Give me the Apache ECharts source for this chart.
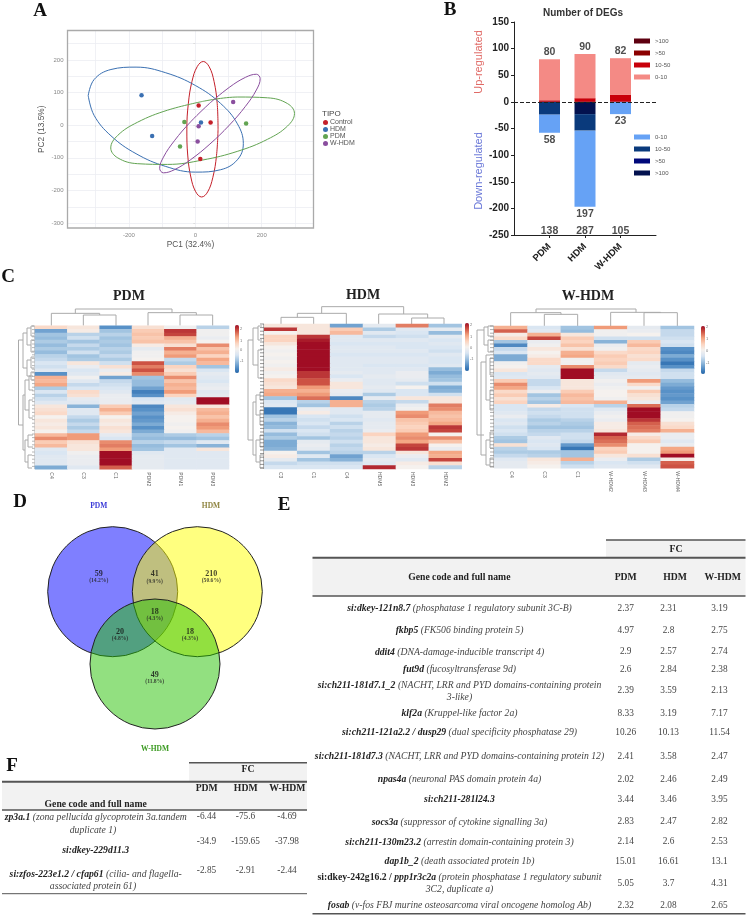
<!DOCTYPE html>
<html><head><meta charset="utf-8">
<style>html,body{margin:0;padding:0;background:#fff}#c{width:748px;height:917px}canvas{filter:blur(.4px)}</style>
<script src="https://cdn.jsdelivr.net/npm/echarts@6/dist/echarts.min.js"></script>
</head><body><div id="c"></div>
<script>
// ---------- Panel A: PCA ----------
const pcaGroups = ['Control','HDM','PDM','W-HDM'];
const pcaColors = ['#c4202a','#3a70b2','#62a452','#8a4e9e'];
const pcaControl = [[10,60],[46,8],[15,-104]];
const pcaHDM = [[-162,92],[-130,-33],[17,8]];
const pcaPDM = [[-33,10],[153,5],[-46,-65]];
const pcaWHDM = [[114,71],[10,-3],[7,-50]];
const ellControl = [[68.5,-13],[63.9,-92.5],[52.9,-159.6],[37.2,-204.4],[19,-220],[1.2,-204],[-13.5,-158.8],[-22.9,-91.5],[-25.5,-12],[-20.9,67.5],[-9.9,134.6],[5.8,179.4],[24,195],[41.8,179],[56.5,133.8],[65.9,66.5],[68.5,-13]];
const ellHDM = [[-322.6,90.5],[-304.8,29.9],[-254.2,-32.5],[-178.5,-87.4],[-89,-126.5],[0.5,-143.8],[76.2,-136.5],[126.8,-105.9],[144.6,-56.5],[126.8,4.1],[76.2,66.5],[0.5,121.4],[-89,160.5],[-178.5,177.8],[-254.2,170.5],[-304.8,139.9],[-322.6,90.5]];
const ellPDM = [[22,72.8],[-84,45.8],[-173.6,9.2],[-233.7,-31.3],[-254.7,-69.7],[-233.7,-100.1],[-173.6,-118],[-84,-120.2],[22,-106.8],[128,-79.8],[217.6,-43.2],[277.7,-2.7],[298.7,35.7],[277.7,66.1],[217.6,83.8],[128,86.2],[22,72.8]];
const ellWHDM = [[44,67.8],[-14,10.4],[-63,-47.7],[-95.9,-97.8],[-107.4,-132.3],[-95.9,-146],[-63,-136.5],[-14,-105.6],[44,-57.8],[102,-0.4],[151,57.7],[183.9,107.8],[195.4,142.3],[183.9,156],[151,146.5],[102,115.6],[44,67.8]];
const pcaXTicks = [-300,-200,-100,0,100,200,300];
const pcaXLabels = [-200,0,200];
const pcaYTicks = [-300,-250,-200,-150,-100,-50,0,50,100,150,200,250];
const pcaYLabels = [-300,-200,-100,0,100,200];

// ---------- Panel B: DEG counts ----------
const degCats = ['', 'PDM', 'HDM', 'W-HDM', ''];
const up10to50 = [null,3,7,13,null];
const up50 = [null,0,0,0,null];
const up100 = [null,0,0,0,null];
const up0to10 = [null,77,83,69,null];
const down100 = [null,0,-23,0,null];
const down10to50 = [null,-24,-31,0,null];
const down50 = [null,0,0,0,null];
const down0to10 = [null,-34,-143,-23,null];
const upTotals = [null,80,90,82,null];
const downTotals = [null,-58,-197,-23,null];
const downLabels = [null,58,197,23,null];
const allTotals = [null,138,287,105,null];

// ---------- Panel C: heatmaps (rows top to bottom, 6 columns) ----------
const pdmCols = ['C4','C3','C1','PDM2','PDM1','PDM3'];
const pdmRows = [
[0.5,0.3,-1.5,0.4,0,-0.7],[-1.3,0.2,-0.9,0.7,1.9,0],[-0.9,-0.7,-0.7,0.8,1.8,0],[-1.0,-0.5,-0.9,0.7,1.0,-0.1],
[-0.8,-0.9,-0.8,0.8,0.8,0.1],[-1.0,-0.6,-0.9,0.2,0.4,1.3],[-0.8,-0.8,-0.7,-0.2,1.4,0.8],[-1.0,-0.5,-0.8,0,1.0,1.0],
[-0.7,-0.9,-0.6,0,1.2,0.6],[-0.6,-0.8,-0.8,0.1,-0.6,1.1],[-0.4,0.3,-0.5,1.7,-0.8,0.9],[-0.5,-0.1,0.4,1.4,0.6,-0.9],
[-0.3,-0.4,-0.1,1.7,0.4,-0.4],[-1.5,-0.3,0.2,1.3,0.7,-0.2],[1.0,0.0,-1.3,-0.9,1.3,-0.3],[0.9,-0.3,-0.6,-1.0,0.8,-0.4],
[1.1,-0.6,-0.5,-1.0,1.0,-0.2],[-0.8,-0.4,-0.4,-1.3,0.9,-0.1],[-0.4,0.5,-0.3,-1.7,1.2,-0.3],[-0.7,0.4,-0.1,-1.5,0.6,-0.2],
[-0.5,-0.2,-0.1,-0.4,-0.3,2.3],[-0.3,-0.3,-0.1,-0.3,-0.2,2.4],[0.3,-1.1,0.7,-1.6,0.3,0.3],[0.4,-0.3,1.0,-1.5,0.4,0.9],
[0.5,-0.3,0.7,-1.3,0.2,1.0],[0.1,-0.6,0.1,-1.5,0.1,0.8],[0.3,-0.8,0.3,-1.4,0.1,1.0],[0.2,-0.6,0.2,-1.2,0.0,1.3],
[0.3,-0.8,0.4,-1.5,0.1,1.2],[0.1,-0.6,0.3,-1.2,0.0,0.9],[0.9,1.2,-0.2,-0.9,-0.8,-0.7],[1.3,1.2,-0.4,-1.0,-1.0,-0.9],
[0.7,0.4,1.3,-0.7,-0.6,-0.3],[0.9,0.3,1.4,-1.0,-0.9,-1.1],[-0.3,0.3,1.2,-0.9,-0.3,0.3],[-0.4,0.0,2.4,-0.3,-0.3,-0.3],
[-0.3,-0.1,2.5,-0.2,-0.3,-0.3],[-0.3,-0.1,2.5,-0.2,-0.3,-0.3],[-0.3,-0.1,2.5,-0.2,-0.3,-0.3],[-1.2,-0.3,1.6,-0.2,-0.3,-0.3]];
const hdmCols = ['C3','C1','C4','HDM5','HDM3','HDM2'];
const hdmRows = [
[0.3,0.3,-1.3,-0.2,1.4,-0.9],[1.9,0.3,0.7,-0.8,-0.3,-0.2],[0.1,0.3,0.9,-0.3,-0.4,-1.0],[0.6,1.9,-0.3,-0.6,-0.5,-0.2],
[0.6,2.1,-0.3,-0.3,-0.3,-0.4],[0.3,2.5,-0.4,-0.4,-0.4,-0.3],[0.1,2.5,-0.3,-0.3,-0.4,-0.4],[0.0,2.5,-0.3,-0.3,-0.3,-0.5],
[0.1,2.5,-0.4,-0.4,-0.4,-0.3],[0.0,2.5,-0.3,-0.3,-0.3,-0.4],[0.1,2.5,-0.3,-0.3,-0.3,-0.4],[0.0,2.5,-0.3,-0.4,-0.4,-0.3],
[0.2,2.3,-0.3,-0.3,-0.3,-1.0],[0.0,1.9,-0.2,-0.3,-0.1,-1.2],[0.1,1.9,-0.4,-0.2,-0.1,-1.0],[0.5,1.7,-0.1,-0.3,-0.2,-0.9],
[0.4,1.7,0.3,-0.3,-0.5,-0.5],[0.3,1.2,0.3,-0.2,0.1,-1.2],[1.0,1.0,-0.1,-0.3,-0.4,-1.1],[1.1,1.2,-0.2,-0.8,-0.4,-0.5],
[-0.9,1.5,-1.6,-0.2,0.3,0.3],[-0.4,-0.7,1.0,-0.7,-0.6,0.3],[-0.3,-0.9,1.0,-0.8,-0.1,1.4],[-1.8,-0.1,-0.3,-0.7,0,1.3],
[-1.8,0.2,-0.3,-0.2,1.2,0.9],[-0.9,-0.4,-0.5,-0.2,1.3,0.8],[-0.7,-0.5,-0.4,-0.3,0.8,0.9],[-1.1,-0.4,-0.7,-0.2,0.7,1.1],
[-1.0,-0.6,-0.5,-0.2,0.6,1.9],[-0.5,-0.4,-0.7,-0.1,0.7,1.8],[-1.0,-0.5,-0.6,0.6,1.2,0.1],[-0.8,-0.9,-0.7,0.3,1.3,1.3],
[-1.2,-0.2,-0.5,0.3,1.1,0.8],[-1.2,-0.1,-0.7,0.2,1.8,0.1],[-1.1,-0.2,-0.6,0.3,1.9,-0.1],[0.1,-0.9,-0.7,-0.7,0.3,1.1],
[0.2,-0.3,-1.3,-0.4,-0.1,1.0],[-0.2,-0.9,-1.1,-0.2,-0.3,1.8],[-0.6,-0.5,-0.5,-0.3,0.2,0.4],[-0.4,-0.4,-0.4,2.0,0.1,-0.7]];
const whdmCols = ['C4','C3','C1','W-HDM2','W-HDM3','W-HDM4'];
const whdmRows = [
[1.0,-0.4,-0.9,1.2,-0.2,-0.9],[1.6,-0.3,-1.0,0.0,-0.1,-0.6],[0.2,1.0,0.3,0,0.1,-0.6],[0.5,1.8,0.7,-0.5,-0.5,-0.5],
[-0.9,-0.1,0.6,-1.1,0.7,-0.4],[-1.6,0.0,0.8,-0.1,0.9,-0.5],[-0.6,0.3,0.4,0,0.5,-1.5],[-0.4,0.1,1.0,0.5,0.6,-1.6],
[-1.2,0.2,1.1,0.7,0.4,-1.2],[-1.2,0.5,0.0,0.6,0.5,-1.5],[0,0.5,0.0,0.7,-0.2,-1.8],[0.1,-0.2,1.3,0.5,-0.1,-1.5],
[0.3,-0.3,2.2,-0.6,-0.2,-0.6],[-0.4,-0.2,2.4,-0.3,-0.3,-0.5],[-0.3,-0.3,2.4,-0.2,-0.2,-0.5],[0.7,-0.6,0.3,0,1.2,-1.0],
[1.3,-0.6,0.3,-0.1,0.5,-1.2],[1.1,-0.4,0.3,0.0,0.0,-1.4],[0.5,-0.1,0.7,0.1,0.7,-1.5],[0.7,-0.9,0.9,0.1,0.4,-1.4],
[0.4,-0.7,0.8,0,0.3,-1.5],[0.6,-0.9,0.9,1.0,-0.1,-1.3],[-0.4,0.2,-0.4,-0.7,1.5,-0.7],[-0.4,-0.6,-0.5,-0.3,2.2,-0.6],
[-0.3,-0.5,-0.5,-0.1,2.5,0.0],[-0.1,-0.6,-0.5,0,2.4,0.0],[-0.4,-0.8,-0.7,-0.1,1.9,0.1],[-0.3,-0.7,-0.8,0.2,1.6,0.4],
[-0.5,-0.9,-0.9,0.2,1.5,0.5],[-0.4,-0.7,-0.7,0.3,1.4,1.0],[-0.5,-0.6,-0.5,2.0,0.2,-0.1],[-0.8,-0.3,-0.5,1.6,0.5,-0.1],
[-0.9,-0.4,-0.6,1.5,0.7,-0.3],[0.4,-0.3,-1.4,1.3,0.1,-0.1],[-0.7,-0.4,-1.8,0.6,0.1,1.1],[-0.8,-0.8,-0.9,0.7,0.1,1.2],
[-0.6,-0.7,-0.9,0.3,0.4,2.3],[-0.3,0.3,1.0,-0.1,-0.8,0.2],[-0.2,0.2,-0.7,-0.4,-0.5,1.6],[-0.2,0.1,-0.5,-0.3,-0.3,1.7]];
const heatStops = ['#2366ab','#5b93c8','#9cc0df','#d9e5f2','#f5f1ee','#fbd3be','#f3a27f','#cf5545','#a00d24'];

// ---------- Panel D: Venn ----------
const vennSets = ['PDM','HDM','W-HDM'];
const vennCounts = [59,41,210,18,20,18,49];
const vennPcts = ['14.2%','9.9%','50.6%','4.3%','4.8%','4.3%','11.8%'];
// layout of the diagram, in page pixels
const vennCircleAt = [[112.7,591.7],[197.3,591.7],[155,664]];
const vennLabelAt = [[98.7,577],[154.7,577.5],[211.3,577],[154.7,615],[120,635],[190,635],[154.7,678]];

// ---------- Panels E, F: tables ----------
const geneE = ['si:dkey-121n8.7','fkbp5','ddit4','fut9d','si:ch211-181d7.1_2','klf2a','si:ch211-121a2.2 / dusp29','si:ch211-181d7.3','npas4a','si:ch211-281l24.3','socs3a','si:ch211-130m23.2','dap1b_2','si:dkey-242g16.2 / ppp1r3c2a','fosab'];
const descE = ['(phosphatase 1 regulatory subunit 3C-B)','(FK506 binding protein 5)','(DNA-damage-inducible transcript 4)','(fucosyltransferase 9d)','(NACHT, LRR and PYD domains-containing protein','(Kruppel-like factor 2a)','(dual specificity phosphatase 29)','(NACHT, LRR and PYD domains-containing protein 12)','(neuronal PAS domain protein 4a)','','(suppressor of cytokine signalling 3a)','(arrestin domain-containing protein 3)','(death associated protein 1b)','(protein phosphatase 1 regulatory subunit','(v-fos FBJ murine osteosarcoma viral oncogene homolog Ab)'];
const contE = ['','','','','3-like)','','','','','','','','','3C2, duplicate a)',''];
const fcPdmE = ['2.37','4.97','2.9','2.6','2.39','8.33','10.26','2.41','2.02','3.44','2.83','2.14','15.01','5.05','2.32'];
const fcHdmE = ['2.31','2.8','2.57','2.84','3.59','3.19','10.13','3.58','2.46','3.46','2.47','2.6','16.61','3.7','2.08'];
const fcWhdmE = ['3.19','2.75','2.74','2.38','2.13','7.17','11.54','2.47','2.49','3.95','2.82','2.53','13.1','4.31','2.65'];
const geneF = ['zp3a.1','si:dkey-229d11.3','si:zfos-223e1.2 / cfap61'];
const descF = ['(zona pellucida glycoprotein 3a.tandem','','(cilia- and flagella-'];
const contF = ['duplicate 1)','','associated protein 61)'];
const fcPdmF = ['-6.44','-34.9','-2.85'];
const fcHdmF = ['-75.6','-159.65','-2.91'];
const fcWhdmF = ['-4.69','-37.98','-2.44'];
const fcCols = ['PDM','HDM','W-HDM'];

// layout only
const rowYE = [608.7,630.7,652,669.7,691,713.3,732.3,756.7,779.3,799.3,822,842,861.3,883.3,905.7];
const colXE = [625.7,668.5,719.5];
const rowYF = [823.7,850.7,880];
const valYF = [816.7,841.3,870.7];
const colXF = [206.5,245.5,287];

const SERIF='"Liberation Serif"', SANS='"Liberation Sans"';
const G=[];
function T(x,y,text,font,fill,align,extra){G.push(Object.assign({type:'text',x,y,silent:true,style:Object.assign({text:String(text),font,fill:fill||'#333',textAlign:align||'center',textVerticalAlign:'middle'},extra||{})}));}
function L(x1,y1,x2,y2,c,w){G.push({type:'line',silent:true,shape:{x1,y1,x2,y2},style:{stroke:c||'#aaa',lineWidth:w||1}});}
function R(x,y,w,h,c){G.push({type:'rect',silent:true,shape:{x,y,width:w,height:h},style:{fill:c}});}
// panel letters
[['A',40,11],['B',450,10],['C',8,277],['D',20,502],['E',284,505],['F',12,766]].forEach(a=>T(a[1],a[2],a[0],'bold 19px '+SERIF,'#111'));
// A extras
T(322,114,'TIPO','8px '+SANS,'#444','left');
// B extras
T(583,13,'Number of DEGs','bold 10px '+SANS,'#333');
G.push({type:'text',x:479,y:62,rotation:Math.PI/2,silent:true,style:{text:'Up-regulated',font:'11px '+SANS,fill:'#e06a66',textAlign:'center',textVerticalAlign:'middle'}});
G.push({type:'text',x:479,y:171,rotation:Math.PI/2,silent:true,style:{text:'Down-regulated',font:'11px '+SANS,fill:'#6a78d8',textAlign:'center',textVerticalAlign:'middle'}});
// C titles
T(129,296,'PDM','bold 14px '+SERIF,'#222');T(363,295,'HDM','bold 14px '+SERIF,'#222');T(588,296,'W-HDM','bold 14px '+SERIF,'#222');
// dendrogram helpers (decoration)
function topBr(ox,x1,y1,x2,y2,yBar){const f=(x)=>ox+x/3,g=y=>290+y/3;L(f(x1),g(yBar),f(x2),g(yBar));L(f(x1),g(yBar),f(x1),g(y1));L(f(x2),g(yBar),f(x2),g(y2));}
topBr(0,250,107,348,107,75);topBr(0,154,107,299,75,70);topBr(0,540,107,638,107,75);topBr(0,444,107,589,75,68);topBr(0,226,70,516,68,57);
topBr(245,108,102,206,102,82);topBr(245,157,82,304,102,70);topBr(245,500,102,597,102,84);topBr(245,401,102,548,84,72);topBr(245,230,70,476,72,50);
topBr(490,163,108,263,108,73);topBr(490,62,108,213,73,68);topBr(490,462,108,562,108,68);topBr(490,362,108,512,68,67);topBr(490,138,68,438,67,57);
function leftBr(list){list.forEach(b=>{L(b[0],b[1],b[0],b[2]);L(b[0],b[1],b[3],b[1]);L(b[0],b[2],b[3],b[2]);});}
leftBr([[18.5,340,425,23],[23,333,368,27],[27,328,345,31],[27,360,376,31],[31,326,336,34],[31,340,352,34],[31,357,368,34],[31,372,380,34],[23,395,450,25],[25,380,410,29],[29,376,390,33],[29,400,418,33],[25,440,462,28],[28,435,447,33],[28,455,468,32]]);
leftBr([[248,340,440,253],[253,328,365,258],[258,326,340,262],[258,350,378,262],[253,402,455,256],[256,395,415,260],[260,392,400,263],[260,410,425,263],[256,440,462,260],[260,435,447,263],[260,455,468,263]]);
leftBr([[477,330,435,484],[484,327,345,488],[488,326,336,493],[488,340,352,493],[481,362,455,486],[486,355,400,490],[490,358,375,493],[490,390,410,493],[486,440,465,490],[490,432,448,493],[490,458,467,493]]);
function fringe(x1,x2,y1,y2,c){L(x2,y1,x2,y2,c,1);for(let y=y1;y<y2;y+=3.6){L(x1,y,x2,y,c,.7);}}
fringe(32,35,326,469,'#999');fringe(260,264,324,469,'#666');fringe(490,494,326,468,'#888');
// colour bar ticks
[[240,[329,341,350,361]],[470,[325,337,348,359]],[706,[327,339,351,363]]].forEach(c=>{['2','1','0','-1'].forEach((s,i)=>T(c[0],c[1][i],s,'4px '+SANS,'#777','left'));});
// Venn set names
T(98.7,505.7,vennSets[0],'bold 7.5px '+SERIF,'#3a3ad8');T(211,505.7,vennSets[1],'bold 7.5px '+SERIF,'#8f8440');T(155,749,vennSets[2],'bold 7.5px '+SERIF,'#3a9a20');
// Table E
const FS=9.7,FV=9.3;
const rich9={b:{font:'italic bold '+FS+'px '+SERIF,fill:'#222'},i:{font:'italic '+FS+'px '+SERIF,fill:'#444'},n:{font:'bold '+FS+'px '+SERIF,fill:'#222'}};
const richT=(g,d)=>{const m=g.match(/^(si:dkey-242g16\.2 \/ )(.*)$/);const head=m?'{n|'+m[1]+'}{b|'+m[2]+'}':'{b|'+g+'}';return head+(d?'{i| '+d+'}':'');};
R(606,540,139.5,17.5,'#f2f2f2');R(312.5,557.5,433,38.5,'#f2f2f2');
L(606,540,745.5,540,'#555',1.5);L(312.5,557.7,745.5,557.7,'#555',2);L(312.5,596,745.5,596,'#555',1.5);L(312.5,913.7,745.5,913.7,'#555',1.5);
T(676,549.3,'FC','bold '+FS+'px '+SERIF,'#222');T(459.3,577.3,'Gene code and full name','bold '+FS+'px '+SERIF,'#222');
[625.7,675,722.7].forEach((x,i)=>T(x,577.3,fcCols[i],'bold '+FS+'px '+SERIF,'#222'));
geneE.forEach((g,i)=>{
  const two=contE[i]!=='';const y=rowYE[i];
  T(459.5,two?y-6:y,richT(g,descE[i]),FS+'px '+SERIF,'#333','center',{rich:rich9});
  if(two)T(459.5,y+6.3,contE[i],'italic '+FS+'px '+SERIF,'#444');
  [fcPdmE,fcHdmE,fcWhdmE].forEach((a,k)=>T(colXE[k],y,a[i],FV+'px '+SERIF,'#444'));
});
// Table F
R(189,762.7,118,19,'#f2f2f2');R(2,781.7,305,28.3,'#f2f2f2');
L(189,762.7,307,762.7,'#555',1.5);L(2,781.7,307,781.7,'#555',2);L(2,810,307,810,'#555',1.3);L(2,893.7,307,893.7,'#555',1);
T(248,769,'FC','bold '+FS+'px '+SERIF,'#222');T(95.7,804.3,'Gene code and full name','bold '+FS+'px '+SERIF,'#222');
[206.7,245.7,287.3].forEach((x,i)=>T(x,788,fcCols[i],'bold '+FS+'px '+SERIF,'#222'));
geneF.forEach((g,i)=>{
  const two=contF[i]!=='';const y=rowYF[i];
  T(95.7,two?y-6:y,richT(g,descF[i]),FS+'px '+SERIF,'#333','center',{rich:rich9});
  if(two)T(93,y+6.3,contF[i],'italic '+FS+'px '+SERIF,'#444');
  [fcPdmF,fcHdmF,fcWhdmF].forEach((a,k)=>T(colXF[k],valYF[i],a[i],FV+'px '+SERIF,'#444'));
});
G.push({type:'rect',silent:true,z:10,shape:{x:67.5,y:30.5,width:246,height:197.5},style:{fill:'none',stroke:'#aaa',lineWidth:1.3}});

// ---------- Grids ----------
const grids=[
 {left:67.5,top:30.5,width:246,height:197.5},
 {left:514,top:22,width:142,height:213},
 {left:35,top:325.7,width:194,height:143.6},
 {left:264.3,top:324,width:197.4,height:145},
 {left:494.3,top:326,width:199.7,height:142.3},
 {left:0,top:490,width:310,height:270}
];
const hide={show:false};
const heatX=(i,cols)=>({type:'category',gridIndex:i,data:cols,axisLine:hide,axisTick:hide,splitLine:hide,position:'bottom',
  axisLabel:{rotate:-90,fontSize:5,color:'#666',fontFamily:SANS,margin:3,interval:0}});
const heatY=(i,rows)=>({type:'category',gridIndex:i,inverse:true,data:rows.map((_,k)=>k),show:false});
const xAxes=[
 {type:'value',gridIndex:0,min:-385,max:356,
  axisLine:{show:false},axisTick:{show:true,customValues:pcaXTicks,length:2,lineStyle:{color:'#ddd'}},
  axisLabel:{customValues:pcaXLabels,fontSize:6,color:'#888',fontFamily:SANS,margin:4},
  splitLine:{show:true,lineStyle:{color:'#eceef3',width:.8}},
  name:'PC1 (32.4%)',nameLocation:'middle',nameGap:13,nameTextStyle:{fontSize:8.3,color:'#555',fontFamily:SANS}},
 {type:'category',gridIndex:1,data:degCats,boundaryGap:false,
  axisLine:{onZero:false,lineStyle:{color:'#222',width:1}},
  axisTick:{interval:(i,v)=>v!=='',length:3,lineStyle:{color:'#222'}},
  axisLabel:{interval:0,rotate:45,fontSize:9.5,fontWeight:'bold',color:'#222',fontFamily:SANS,margin:10},splitLine:hide},
 heatX(2,pdmCols),heatX(3,hdmCols),heatX(4,whdmCols),
 {type:'value',gridIndex:5,min:0,max:310,show:false}
];
const yAxes=[
 {type:'value',gridIndex:0,min:-315,max:290,
  axisLine:{show:false},axisTick:{show:true,customValues:pcaYTicks,length:2,lineStyle:{color:'#ddd'}},
  axisLabel:{customValues:pcaYLabels,fontSize:6,color:'#888',fontFamily:SANS,margin:4},
  splitLine:{show:true,lineStyle:{color:'#eceef3',width:.8}},
  name:'PC2 (13.5%)',nameLocation:'middle',nameGap:22,nameTextStyle:{fontSize:8.3,color:'#555',fontFamily:SANS}},
 {type:'value',gridIndex:1,min:-250,max:150,interval:50,
  axisLine:{show:true,lineStyle:{color:'#222',width:1}},axisTick:{show:true,length:3,lineStyle:{color:'#222'}},
  axisLabel:{fontSize:10,fontWeight:'bold',color:'#222',fontFamily:SANS,margin:5},splitLine:hide},
 heatY(2,pdmRows),heatY(3,hdmRows),heatY(4,whdmRows),
 {type:'value',gridIndex:5,min:490,max:760,inverse:true,show:false}
];

// ---------- Series ----------
const S=[];
[ellControl,ellHDM,ellPDM,ellWHDM].forEach((d,i)=>S.push({type:'line',name:pcaGroups[i],xAxisIndex:0,yAxisIndex:0,data:d,smooth:0.4,symbol:'none',silent:true,itemStyle:{color:pcaColors[i]},lineStyle:{color:pcaColors[i],width:1},z:2}));
[pcaControl,pcaHDM,pcaPDM,pcaWHDM].forEach((d,i)=>S.push({type:'scatter',name:pcaGroups[i],xAxisIndex:0,yAxisIndex:0,data:d,symbolSize:4.5,itemStyle:{color:pcaColors[i],opacity:1},z:3}));
const bar=(name,data,color,extra)=>Object.assign({type:'bar',name,xAxisIndex:1,yAxisIndex:1,stack:'deg',data,barWidth:21,itemStyle:{color}},extra||{});
S.push(bar('Up 10-50',up10to50,'#c8000a',{markLine:{silent:true,symbol:'none',label:{show:false},lineStyle:{color:'#222',type:'dashed',width:1},data:[{yAxis:0}],z:6}}));
S.push(bar('Up >50',up50,'#8b0000'));S.push(bar('Up >100',up100,'#5e0010'));S.push(bar('Up 0-10',up0to10,'#f48a85'));
S.push(bar('Down >100',down100,'#03124f'));S.push(bar('Down 10-50',down10to50,'#0a3a7c'));S.push(bar('Down >50',down50,'#00087a'));S.push(bar('Down 0-10',down0to10,'#66a2f5'));
const totalLabel=(name,vals,pos,txt,off)=>({type:'scatter',name,xAxisIndex:1,yAxisIndex:1,symbolSize:1,itemStyle:{color:'rgba(0,0,0,0)'},silent:true,
  data:vals,label:{show:true,position:pos,distance:1,offset:[0,off||0],fontSize:10.5,fontWeight:'bold',color:'#222',fontFamily:SANS,formatter:p=>txt[p.dataIndex]}});
S.push(totalLabel('Up total',upTotals,'top',upTotals));
S.push(totalLabel('Down total',downTotals,'bottom',downLabels));
S.push(totalLabel('Total',allTotals.map(v=>v==null?null:-250),'top',allTotals,3));
const heatSeries=(i,rows)=>{const d=[];rows.forEach((r,y)=>r.forEach((v,x)=>d.push([x,y,v])));
  return {type:'heatmap',name:'heat'+i,xAxisIndex:i,yAxisIndex:i,data:d,silent:true,progressive:0,itemStyle:{borderWidth:0}};};
const hi=S.length;
S.push(heatSeries(2,pdmRows),heatSeries(3,hdmRows),heatSeries(4,whdmRows));
const vm=(idx,left,top,h)=>({type:'continuous',seriesIndex:idx,min:-2,max:2.2,left,top,padding:0,itemWidth:4,itemHeight:h,calculable:false,text:null,
  inRange:{color:heatStops},textStyle:{fontSize:1,color:'transparent'},hoverLink:false});
const vennFill=['rgba(0,0,255,0.5)','rgba(255,255,0,0.5)','rgba(37,193,1,0.5)'];
vennCircleAt.forEach((c,i)=>S.push({type:'scatter',name:vennSets[i]+' set',xAxisIndex:5,yAxisIndex:5,data:[c],symbolSize:130,silent:true,
  itemStyle:{color:vennFill[i],borderColor:'#222',borderWidth:1,opacity:1},z:2+i}));
S.push({type:'scatter',name:'Venn counts',xAxisIndex:5,yAxisIndex:5,symbolSize:1,itemStyle:{color:'rgba(0,0,0,0)'},silent:true,z:8,
  data:vennLabelAt,label:{show:true,position:'inside',formatter:p=>'{a|'+vennCounts[p.dataIndex]+'}\n{b|('+vennPcts[p.dataIndex]+')}',
    rich:{a:{fontFamily:SERIF,fontWeight:'bold',fontSize:8,color:'#111',align:'center',lineHeight:8},b:{fontFamily:SERIF,fontWeight:'bold',fontSize:5.6,color:'#222',align:'center',lineHeight:7}}}});

const legItem={itemWidth:16,itemHeight:5,itemGap:6,orient:'vertical',padding:0,selectedMode:false,icon:'rect',
  textStyle:{fontSize:6,color:'#555',fontFamily:SANS},formatter:n=>n.replace(/^(Up|Down) /,'')};
const option={
 animation:false,backgroundColor:'#fff',
 grid:grids,xAxis:xAxes,yAxis:yAxes,series:S,
 visualMap:[vm(hi,235,325,48),vm(hi+1,465,323,48),vm(hi+2,701,326,48)],
 legend:[
  {data:pcaGroups.map(n=>({name:n,icon:'circle'})),left:323,top:119,padding:0,orient:'vertical',selectedMode:false,itemWidth:5,itemHeight:5,itemGap:0,textStyle:{fontSize:7,lineHeight:7,color:'#555',fontFamily:SANS,padding:[0,0,0,-3]}},
  Object.assign({},legItem,{data:['Up >100','Up >50','Up 10-50','Up 0-10'],left:634,top:38}),
  Object.assign({},legItem,{data:['Down 0-10','Down 10-50','Down >50','Down >100'],left:634,top:134})
 ],
 graphic:{elements:G},
 tooltip:{show:false}
};
const chart=echarts.init(document.getElementById('c'));
chart.setOption(option);
</script></body></html>
